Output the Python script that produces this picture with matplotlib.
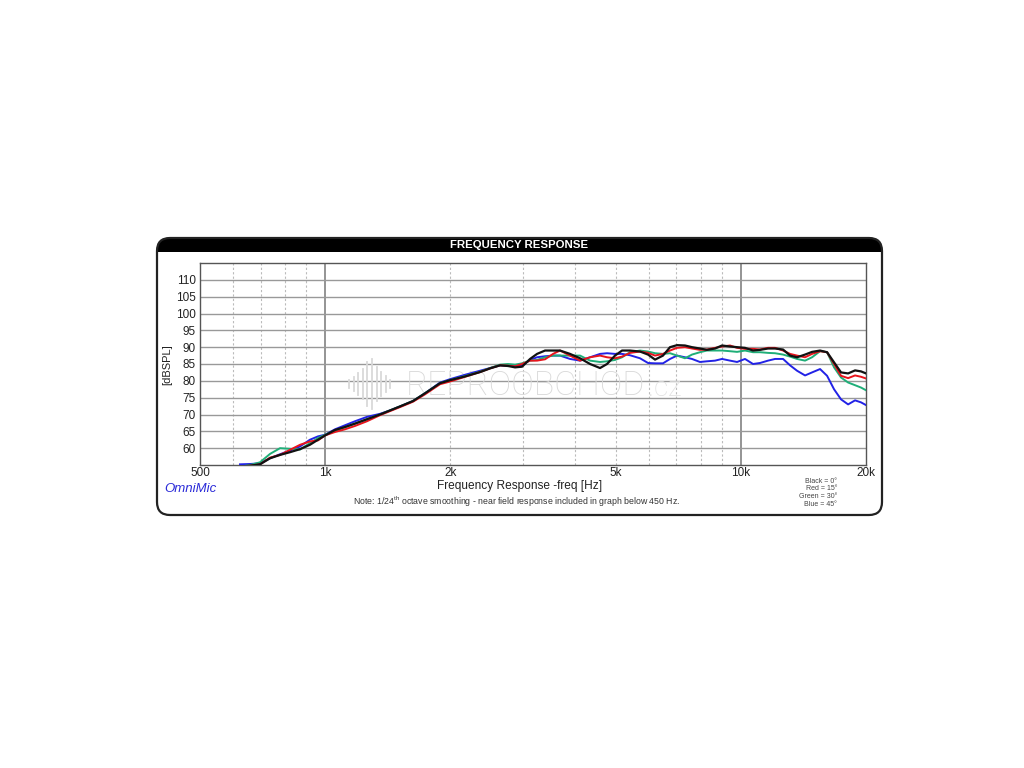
import numpy as np
import matplotlib
matplotlib.use('Agg')
import matplotlib.pyplot as plt
from matplotlib.patches import FancyBboxPatch, Rectangle

plt.rcParams['font.family'] = ['Liberation Sans', 'DejaVu Sans']
plt.rcParams['mathtext.fontset'] = 'custom'
plt.rcParams['mathtext.rm'] = 'Liberation Sans'

# frecuencias [Hz] comunes a las cuatro curvas
freq = [624, 660, 697, 737, 779, 823, 870, 919, 961, 1000,
        1056, 1116, 1180, 1261, 1355, 1432, 1514, 1627, 1739, 1890,
        1998, 2170, 2358, 2493, 2635, 2754, 2863, 2976, 3111, 3234,
        3381, 3534, 3673, 3882, 4103, 4338, 4584, 4765, 4981, 5179,
        5412, 5720, 5980, 6217, 6497, 6755, 7022, 7338, 7629, 7973,
        8288, 8668, 9010, 9418, 9792, 10232, 10697, 11119, 11624, 12084,
        12633, 13133, 13651, 14270, 14834, 15507, 16120, 16756, 17415, 18113,
        18824, 19459, 20000]

# Black = 0 grados
spl_0 = [54.5, 54.8, 55.2, 57.0, 58.0, 58.8, 59.7, 61.0, 62.5, 63.8,
         65.4, 66.3, 67.3, 68.6, 70.0, 71.2, 72.4, 74.0, 76.3, 79.3,
         80.2, 81.3, 82.6, 83.7, 84.6, 84.4, 84.0, 84.2, 86.5, 88.0,
         89.0, 89.0, 89.0, 88.0, 86.7, 85.0, 83.8, 85.0, 87.5, 89.0,
         89.0, 88.7, 87.8, 86.3, 87.5, 90.0, 90.6, 90.5, 90.0, 89.6,
         89.2, 89.6, 90.5, 90.2, 90.0, 89.8, 89.0, 89.2, 89.6, 89.6,
         89.3, 87.5, 87.0, 87.8, 88.6, 89.0, 88.5, 85.5, 82.5, 82.2,
         83.1, 82.8, 82.2]

# Red = 15 grados
spl_15 = [54.5, 54.8, 55.2, 57.2, 58.0, 59.5, 61.0, 62.0, 62.3, 63.8,
          64.8, 65.6, 66.6, 68.0, 69.8, 71.0, 72.2, 73.8, 76.0, 79.0,
          79.8, 81.2, 82.6, 83.7, 84.6, 84.5, 84.3, 85.0, 86.0, 86.0,
          86.4, 88.0, 89.0, 87.5, 86.0, 87.0, 87.5, 87.0, 86.7, 87.2,
          88.3, 88.7, 88.3, 87.5, 88.0, 89.0, 89.8, 90.0, 89.6, 89.2,
          89.3, 89.8, 90.2, 90.5, 89.8, 89.5, 89.5, 89.3, 89.8, 89.8,
          89.0, 88.0, 87.5, 87.0, 88.0, 88.8, 88.5, 85.0, 81.5, 80.8,
          81.6, 81.2, 80.7]

# Green = 30 grados
spl_30 = [54.5, 55.0, 55.8, 58.3, 60.0, 59.8, 59.6, 61.5, 63.0, 64.0,
          65.2, 66.2, 67.3, 68.6, 70.0, 71.2, 72.4, 74.0, 76.3, 79.3,
          80.2, 81.4, 82.7, 83.8, 84.8, 85.0, 84.8, 85.2, 86.0, 86.2,
          87.0, 87.5, 87.5, 87.5, 87.5, 86.0, 85.6, 85.8, 86.2, 87.0,
          88.5, 89.0, 88.7, 88.2, 88.0, 88.2, 87.5, 86.7, 87.8, 88.5,
          89.0, 89.0, 89.0, 88.8, 88.6, 89.0, 88.5, 88.5, 88.3, 88.2,
          87.8, 87.2, 86.5, 86.0, 87.0, 88.8, 88.5, 84.0, 81.0, 79.5,
          78.7, 78.0, 77.2]

# Blue = 45 grados
spl_45 = [55.2, 55.3, 55.5, 57.0, 58.2, 59.3, 60.5, 62.5, 63.5, 64.0,
          65.6, 66.8, 68.0, 69.3, 70.2, 71.2, 72.4, 74.0, 76.3, 79.5,
          80.5, 81.8, 83.0, 83.8, 84.6, 84.5, 84.5, 84.6, 86.2, 87.0,
          87.3, 87.5, 87.5, 86.5, 86.0, 87.0, 88.0, 88.2, 88.0, 88.0,
          87.6, 86.7, 85.3, 85.2, 85.2, 86.5, 87.5, 87.0, 86.5, 85.6,
          85.8, 86.0, 86.5, 86.0, 85.6, 86.5, 85.0, 85.3, 86.0, 86.5,
          86.5, 84.6, 83.0, 81.6, 82.5, 83.5, 81.5, 77.5, 74.5, 73.0,
          74.2, 73.6, 72.8]

xticks = [500, 1000, 2000, 5000, 10000, 20000]
xticklabels = ['500', '1k', '2k', '5k', '10k', '20k']
rejilla = [600, 700, 800, 900, 2000, 3000, 4000, 5000, 6000, 7000, 8000, 9000]
yticks = [60, 65, 70, 75, 80, 85, 90, 95, 100, 105, 110]
leyenda = ['Black = 0°', 'Red = 15°', 'Green = 30°', 'Blue = 45°']
# alturas de las barras del icono de la marca de agua
icono = [8, 14, 22, 30, 44, 50, 34, 24, 16, 8]

fig = plt.figure(figsize=(10.24, 7.68), dpi=100)

# marco redondeado en unidades de pixel
fondo = fig.add_axes([0, 0, 1, 1], zorder=0)
fondo.set_xlim(0, 1024)
fondo.set_ylim(768, 0)
fondo.axis('off')
marco = FancyBboxPatch((157, 238), 725, 277, boxstyle='round,pad=0,rounding_size=13',
                       fc='white', ec='none', zorder=0)
fondo.add_patch(marco)
cabecera = Rectangle((150, 230), 740, 21.5, fc='black', ec='none', zorder=1)
fondo.add_patch(cabecera)
cabecera.set_clip_path(marco)
fondo.add_patch(FancyBboxPatch((157, 238), 725, 277, boxstyle='round,pad=0,rounding_size=13',
                               fc='none', ec='#222222', lw=1.6, zorder=3))
fondo.text(519, 244.5, 'FREQUENCY RESPONSE', color='white', fontsize=8.2, fontweight='bold',
           ha='center', va='center', zorder=4)
fondo.text(520, 485.5, 'Frequency Response -freq [Hz]', fontsize=8.6, ha='center', va='center',
           color='#222222', zorder=4)
fondo.text(517, 502, r'Note: 1/24$^{\rm th}$ octave smoothing - near field response included in graph below 450 Hz.',
           fontsize=6.3, ha='center', va='center', color='#333333', zorder=4)
fondo.text(164, 489, 'OmniMic', fontsize=9.5, style='italic', color='#2a2ad8',
           ha='left', va='center', zorder=4)
for i, t in enumerate(leyenda):
    fondo.text(837, 481.5 + 7.5 * i, t, fontsize=5.0, ha='right', va='center',
               color='#444444', zorder=4)
fondo.text(167, 365, '[dBSPL]', fontsize=8, rotation=90, ha='center', va='center',
           color='#222222', zorder=4)

ax = fig.add_axes([200 / 1024, 1 - 465 / 768, 666 / 1024, 202 / 768], zorder=1)
ax.patch.set_alpha(0)
ax.set_xscale('log')
ax.set_xlim(500, 20000)
ax.set_ylim(55, 115)

for f in rejilla:
    ax.axvline(f, color='#bbbbbb', lw=0.8, ls=(0, (2, 2)), zorder=1)
for f in [1000, 10000]:
    ax.axvline(f, color='#777777', lw=1.1, zorder=1)
for v in yticks:
    ax.axhline(v, color='#999999', lw=1.0, zorder=1)

# marca de agua
wm = fig.add_axes([0, 0, 1, 1], zorder=2)
wm.set_xlim(0, 1024)
wm.set_ylim(768, 0)
wm.axis('off')
wm.patch.set_alpha(0)
for i, h in enumerate(icono):
    wm.plot([349 + 4.6 * i] * 2, [384 - h / 2, 384 + h / 2], color='#d9d9d9', lw=1.3)
wm.text(406, 386, 'REPROOBCHOD', fontsize=24.3, color='#d9d9d9',
        family=['Roboto', 'DejaVu Sans'], fontweight='light', ha='left', va='center')
wm.text(648, 389, '.cz', fontsize=20, color='#e0e0e0',
        family=['Roboto', 'DejaVu Sans'], fontweight='light', ha='left', va='center')

ax2 = fig.add_axes(ax.get_position(), zorder=3, sharex=ax, sharey=ax)
ax2.patch.set_alpha(0)
ax2.axis('off')
ax2.plot(freq, spl_45, color='#2222e6', lw=1.4, zorder=3)
ax2.plot(freq, spl_30, color='#1fae78', lw=1.4, zorder=4)
ax2.plot(freq, spl_15, color='#e8141c', lw=1.4, zorder=5)
ax2.plot(freq, spl_0, color='#111111', lw=1.6, zorder=6)

ax.set_xticks(xticks)
ax.set_xticklabels(xticklabels)
ax.minorticks_off()
ax.set_yticks(yticks)
ax.tick_params(length=0, labelsize=8.5, colors='#222222', pad=3)
ax.tick_params(axis='x', pad=1.5)
for s in ax.spines.values():
    s.set_color('#555555')
    s.set_linewidth(1.0)

fig.savefig('out.png', dpi=100)
